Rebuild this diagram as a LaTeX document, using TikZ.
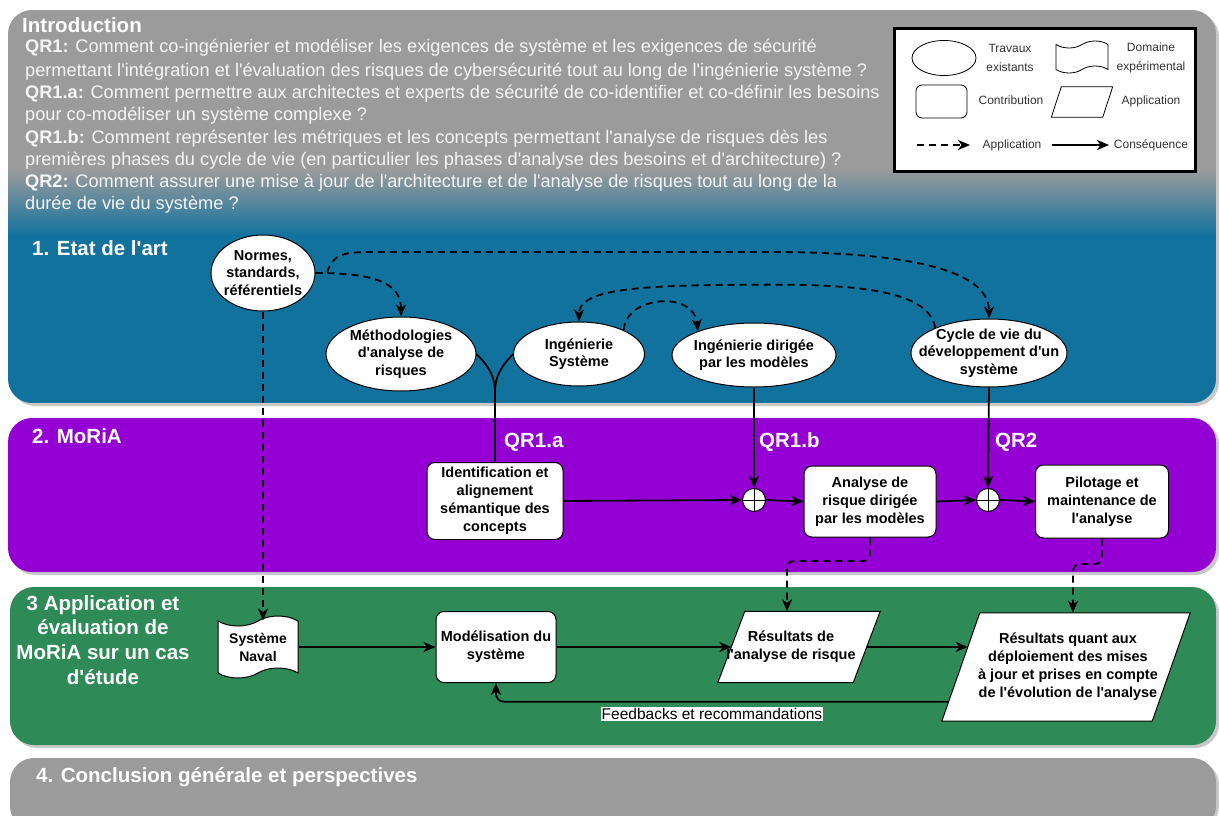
\documentclass[tikz,border=0pt]{standalone}
\usepackage{fontspec}
\setmainfont{Liberation Sans}[Ligatures=TeXOff]
\usetikzlibrary{shapes.geometric,shapes.symbols,arrows.meta,calc}
\definecolor{pgray}{RGB}{155,155,155}
\definecolor{pblue}{RGB}{17,114,158}
\definecolor{ppurple}{RGB}{148,0,211}
\definecolor{pgreen}{RGB}{46,139,87}
\definecolor{pshadow}{RGB}{200,200,200}
\definecolor{legtext}{RGB}{51,51,51}
\definecolor{introtext}{RGB}{245,245,245}
\newcommand{\fsz}[2]{\fontsize{#1}{#2}\selectfont}
% parallelogram drawn on the frame of a rectangular node: #1 options, #2 node name, #3 slant
\newcommand{\parallelo}[3]{\draw[#1] (#2.south west) -- ($(#2.north west)+(#3,0)$) -- (#2.north east) -- ($(#2.south east)-(#3,0)$) -- cycle;}
\tikzset{
  ellnode/.style={ellipse, draw=black, line width=1pt, fill=white, align=center, inner sep=-20pt, font=\bfseries\fsz{14.5}{17.5}},
  contrib/.style={rectangle, rounded corners=8pt, draw=black, line width=1pt, fill=white, align=center, inner sep=0pt, font=\bfseries\fsz{14.5}{18}},
  appframe/.style={rectangle, draw=none, inner sep=0pt, font=\bfseries\fsz{14.5}{18}},
  appshape/.style={draw=black, line width=1pt, fill=white},
  expdomain/.style={tape, draw=black, line width=1pt, fill=white, align=center, inner sep=0pt, tape bend height=10pt, font=\bfseries\fsz{14}{18}},
  sumnode/.style={circle, draw=black, line width=1pt, fill=white, minimum size=23pt, inner sep=0pt},
  conseq/.style={line width=1.8pt, -{Stealth[length=12pt,width=10pt,inset=3.5pt]}},
  applic/.style={conseq, dash pattern=on 7pt off 5pt},
  solidline/.style={line width=1.8pt},
  ptitle/.style={text=white, font=\bfseries\fsz{20.5}{24}, anchor=west, inner sep=0pt},
  introline/.style={text=introtext, font=\fsz{18.2}{22}, anchor=base west, inner sep=0pt},
  legtxt/.style={text=legtext, font=\fsz{12}{19}, align=center, inner sep=0pt},
}
\begin{document}
\begin{tikzpicture}[x=1pt,y=-1pt]
\useasboundingbox (0,0) rectangle (1219,816);
\fill[white] (0,0) rectangle (1219,816);
% ---------- panels ----------
\fill[pshadow, rounded corners=24pt] (11,13) rectangle (1219,406);
\fill[pshadow, rounded corners=24pt] (11,421) rectangle (1219,575);
\fill[pshadow, rounded corners=24pt] (13,590) rectangle (1219,748);
\fill[pshadow, rounded corners=24pt] (13,761) rectangle (1219,830);
\begin{scope}
  \clip[rounded corners=24pt] (8,10) rectangle (1216,403);
  \fill[pgray] (8,10) rectangle (1216,171);
  \shade[top color=pgray, bottom color=pblue] (8,170) rectangle (1216,236);
  \fill[pblue] (8,235) rectangle (1216,403);
\end{scope}
\fill[ppurple, rounded corners=24pt] (8,418) rectangle (1216,572);
\fill[pgreen, rounded corners=24pt] (10,587) rectangle (1216,745);
\fill[pgray, rounded corners=24pt] (10,758) rectangle (1216,830);

% ---------- introduction ----------
\node[ptitle] (tintro) at (22,25) {Introduction};
\node[introline] (l1) at (25,53) {\textbf{QR1:} Comment co-ingénierier et modéliser les exigences de système et les exigences de sécurité};
\node[introline] (l2) at (25,77) {permettant l'intégration et l'évaluation des risques de cybersécurité tout au long de l'ingénierie système ?};
\node[introline] (l3) at (25,99) {\textbf{QR1.a:} Comment permettre aux architectes et experts de sécurité de co-identifier et co-définir les besoins};
\node[introline] (l4) at (25,121) {pour co-modéliser un système complexe ?};
\node[introline] (l5) at (25,143) {\textbf{QR1.b:} Comment représenter les métriques et les concepts permettant l'analyse de risques dès les};
\node[introline] (l6) at (25,165) {premières phases du cycle de vie (en particulier les phases d'analyse des besoins et d'architecture) ?};
\node[introline] (l7) at (25,187) {\textbf{QR2:} Comment assurer une mise à jour de l'architecture et de l'analyse de risques tout au long de la};
\node[introline] (l8) at (25,209) {durée de vie du système ?};

% ---------- legend ----------
\node[draw=black, line width=3pt, fill=white, minimum width=301pt, minimum height=142pt, inner sep=0pt] (legend) at (1045,100) {};
\node[ellipse, draw=black, line width=0.8pt, minimum width=64pt, minimum height=35pt] (lgell) at (944,58) {};
\node[legtxt] (lgt1) at (1010,58) {Travaux\\existants};
\node[tape, draw=black, line width=0.8pt, minimum width=52pt, minimum height=32pt, tape bend height=7pt] (lgdom) at (1082,57) {};
\node[legtxt] (lgt2) at (1151,58) {Domaine\\expérimental};
\node[rectangle, rounded corners=6pt, draw=black, line width=0.8pt, minimum width=51pt, minimum height=33pt] (lgcon) at (941.5,101.5) {};
\node[legtxt] (lgt3) at (1011,100) {Contribution};
\node[appframe, minimum width=61pt, minimum height=30pt] (lgapp) at (1082,102) {};
\parallelo{draw=black, line width=0.8pt}{lgapp}{10}
\node[legtxt] (lgt4) at (1151,101) {Application};
\coordinate (lga1) at (917,145);
\coordinate (lga2) at (970,145);
\coordinate (lgb1) at (1052,145);
\coordinate (lgb2) at (1109,145);
\draw[applic] (lga1) -- (lga2);
\draw[conseq] (lgb1) -- (lgb2);
\node[legtxt] (lgt5) at (1012,145) {Application};
\node[legtxt] (lgt6) at (1151,145) {Conséquence};

% ---------- section titles ----------
\node[ptitle] (t1) at (32,248) {1. Etat de l'art};
\node[ptitle] (t2) at (32,436) {2. MoRiA};
\node[text=white, font=\bfseries\fsz{20.5}{24.7}, align=center, inner sep=0pt] (t3) at (103,640) {3 Application et\\évaluation de\\MoRiA sur un cas\\d'étude};
\node[ptitle] (t4) at (36,777) {4. Conclusion générale et perspectives};

% ---------- state of the art ----------
\node[ellnode, minimum width=104pt, minimum height=76pt] (normes) at (263,273) {Normes,\\standards,\\référentiels};
\node[ellnode, minimum width=150pt, minimum height=74pt] (methodo) at (401,354) {Méthodologies\\d'analyse de\\risques};
\node[ellnode, minimum width=131pt, minimum height=64pt] (ingsys) at (579,354) {Ingénierie\\Système};
\node[ellnode, minimum width=164pt, minimum height=64pt] (ingdir) at (754,355) {Ingénierie dirigée\\par les modèles};
\node[ellnode, minimum width=156pt, minimum height=68pt] (cycle) at (989,353) {Cycle de vie du\\développement d'un\\système};

% ---------- MoRiA ----------
\node[contrib, minimum width=136pt, minimum height=77pt] (ident) at (495,501) {Identification et\\alignement\\sémantique des\\concepts};
\node[sumnode] (c1) at (754,500) {};
\node[contrib, minimum width=132pt, minimum height=71pt] (analyse) at (870,501.5) {Analyse de\\risque dirigée\\par les modèles};
\node[sumnode] (c2) at (988,500) {};
\node[contrib, minimum width=133pt, minimum height=73pt] (pilot) at (1102,501.5) {Pilotage et\\maintenance de\\l'analyse};
\draw[line width=0.9pt] (c1.north) -- (c1.south) (c1.west) -- (c1.east);
\draw[line width=0.9pt] (c2.north) -- (c2.south) (c2.west) -- (c2.east);
\node[ptitle] (qa) at (504,442) {QR1.a};
\node[ptitle] (qb) at (759,442) {QR1.b};
\node[ptitle] (qc) at (995,442) {QR2};

% ---------- application ----------
\node[expdomain, minimum width=80pt, minimum height=62pt] (naval) at (258,647) {Système\\Naval};
\node[contrib, minimum width=120pt, minimum height=71pt] (model) at (496,647) {Modélisation du\\système};
\node[appframe, minimum width=162pt, minimum height=71pt] (res1) at (799,647) {};
\parallelo{appshape}{res1}{27}
\node[appframe, align=center, font=\bfseries\fsz{14.5}{18}] (res1txt) at (791,647) {Résultats de\\l'analyse de risque};
\node[appframe, minimum width=248pt, minimum height=108pt] (res2) at (1066,667) {};
\parallelo{appshape}{res2}{38}
\node[appframe, align=center, font=\bfseries\fsz{14.5}{18}] (res2txt) at (1068,667) {Résultats quant aux\\déploiement des mises\\à jour et prises en compte\\de l'évolution de l'analyse};

% ---------- connectors: state of the art ----------
\coordinate (yj) at (495,392);
\draw[applic] (normes.east) .. controls (375,273) and (401,283) .. (methodo.north);
\draw[applic] (normes.east) -- (327,273) .. controls (333,253) and (345,252) .. (375,252) -- (770,252) .. controls (900,252) and (989,268) .. (cycle.north);
\draw[applic] (cycle.155) .. controls (928,282) and (820,284) .. (720,285) .. controls (625,286) and (579,292) .. (ingsys.north);
\draw[applic] (ingsys.28) .. controls (625,296) and (694,290) .. (ingdir.157);
\draw[applic] (normes.south) -- (normes.south |- naval.north);
\draw[solidline] (methodo.east) .. controls (484,362) and (495,372) .. (yj);
\draw[solidline] (ingsys.west) .. controls (506,362) and (495,372) .. (yj);
\draw[solidline] (yj) -- (ident.north);
\draw[conseq] (ingdir.south) -- (c1.north);
\draw[conseq] (cycle.south) -- (c2.north);

% ---------- connectors: MoRiA ----------
\draw[conseq] (ident.east) -- (c1.west);
\draw[conseq] (c1.east) -- (analyse.west);
\draw[conseq] (analyse.east) -- (c2.west);
\draw[conseq] (c2.east) -- (pilot.west);
\coordinate (d1) at (787,561);
\coordinate (d2) at (1073,564);
\draw[applic, rounded corners=7pt] (analyse.south) -- (analyse.south |- d1) -- (d1) -- (d1 |- res1.north);
\draw[applic, rounded corners=7pt] (pilot.south) -- (pilot.south |- d2) -- (d2) -- (d2 |- res2.north);

% ---------- connectors: application ----------
\coordinate (r1in) at ($(res1.west)+(13.5,0)$);
\coordinate (r1out) at ($(res1.east)-(13.5,0)$);
\coordinate (r2in) at ($(res2.south west)!0.685!(res2.north west)+(26,0)$);
\coordinate (r2fb) at ($(res2.south west)!0.18!(res2.north west)+(6.8,0)$);
\draw[conseq] (naval.east) -- (model.west);
\draw[conseq] (model.east) -- (r1in);
\draw[conseq] (r1out) -- (r2in);
\draw[conseq, rounded corners=8pt] (r2fb) -- (model.south |- r2fb) -- (model.south);
\node[fill=white, inner sep=1pt, font=\fsz{15.5}{17}] (fbl) at (712,714) {Feedbacks et recommandations};
\end{tikzpicture}
\end{document}
